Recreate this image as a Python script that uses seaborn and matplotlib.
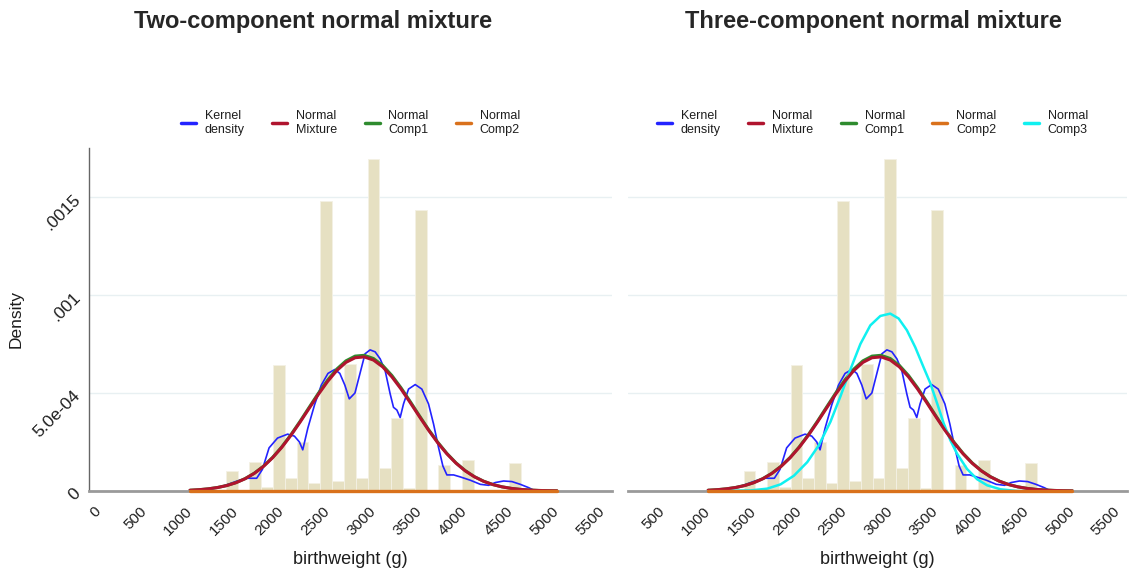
#birthweight: normal mixture fits vs histogram and kernel density
import numpy as np
import pandas as pd
import matplotlib
matplotlib.use("Agg")
import matplotlib.pyplot as plt
from matplotlib.lines import Line2D
import seaborn as sns

#histogram bars (density per bin)
bin_start = 1003
bin_width = 128.8
bar_heights = [1.2e-5, 0, 0, 1.0e-4, 0, 1.5e-4, 2.0e-5, 6.43e-4, 6.5e-5, 2.5e-4,
               4.3e-5, 1.48e-3, 5.1e-5, 6.5e-4, 6.8e-5, 1.695e-3, 1.15e-4, 3.7e-4,
               1.7e-5, 1.433e-3, 0, 1.33e-4, 0, 1.59e-4, 0, 0, 0, 1.42e-4]

#kernel density
kde_x = [1000, 1220, 1367, 1514, 1624, 1727, 1789, 1862, 1954, 2064, 2138, 2193, 2229,
         2284, 2358, 2431, 2504, 2578, 2633, 2688, 2736, 2798, 2853, 2908, 2963, 3018,
         3073, 3127, 3182, 3218, 3255, 3291, 3327, 3382, 3455, 3527, 3600, 3655, 3709,
         3756, 3800, 3873, 3945, 4055, 4164, 4255, 4327, 4418, 4509, 4600, 4691, 4764]
kde_y = [0, 8.5e-6, 2.6e-5, 5.1e-5, 6.5e-5, 6.5e-5, 1.1e-4, 2.2e-4, 2.7e-4, 2.9e-4,
         2.8e-4, 2.5e-4, 2.1e-4, 3.2e-4, 4.4e-4, 5.4e-4, 6.0e-4, 6.2e-4, 6.0e-4, 5.4e-4,
         4.7e-4, 5.0e-4, 6.0e-4, 7.0e-4, 7.2e-4, 7.1e-4, 6.74e-4, 6.14e-4, 4.95e-4,
         4.27e-4, 4.13e-4, 3.75e-4, 4.44e-4, 5.2e-4, 5.43e-4, 5.2e-4, 4.44e-4, 3.41e-4,
         2.22e-4, 1.28e-4, 8.2e-5, 8.2e-5, 7.2e-5, 5.5e-5, 3.4e-5, 2.9e-5, 4.3e-5,
         5.1e-5, 4.8e-5, 3.4e-5, 1.7e-5, 0]

#fitted mixture and components
curve_x = list(range(1000, 5001, 100))
mix_y = [3.8e-6, 6.5e-6, 1.09e-5, 1.76e-5, 2.76e-5, 4.21e-5, 6.23e-5, 8.95e-5, 1.249e-4,
         1.693e-4, 2.224e-4, 2.838e-4, 3.515e-4, 4.226e-4, 4.933e-4, 5.589e-4, 6.147e-4,
         6.562e-4, 6.800e-4, 6.841e-4, 6.680e-4, 6.332e-4, 5.826e-4, 5.204e-4, 4.512e-4,
         3.798e-4, 3.102e-4, 2.461e-4, 1.895e-4, 1.415e-4, 1.027e-4, 7.23e-5, 4.94e-5,
         3.27e-5, 2.11e-5, 1.32e-5, 8.0e-6, 4.7e-6, 2.7e-6, 1.5e-6, 8e-7]
comp1_y = [3.8e-6, 6.6e-6, 1.10e-5, 1.78e-5, 2.79e-5, 4.26e-5, 6.30e-5, 9.06e-5, 1.264e-4,
           1.713e-4, 2.251e-4, 2.872e-4, 3.557e-4, 4.277e-4, 4.992e-4, 5.656e-4, 6.221e-4,
           6.641e-4, 6.882e-4, 6.923e-4, 6.760e-4, 6.408e-4, 5.896e-4, 5.266e-4, 4.566e-4,
           3.844e-4, 3.139e-4, 2.491e-4, 1.918e-4, 1.432e-4, 1.039e-4, 7.32e-5, 5.0e-5,
           3.31e-5, 2.14e-5, 1.34e-5, 8.1e-6, 4.8e-6, 2.7e-6, 1.5e-6, 8e-7]
comp2_x = [1000, 5000]
comp2_y = [0, 0]
comp3_x = [1000, 1467, 1650, 1796, 1942, 2088, 2215, 2343, 2453, 2562, 2672, 2781, 2891,
           3000, 3092, 3183, 3275, 3367, 3440, 3514, 3587, 3660, 3734, 3844, 3954, 4064,
           4211, 4394, 5000]
comp3_y = [0, 3e-6, 1.2e-5, 3.4e-5, 7.8e-5, 1.47e-4, 2.33e-4, 3.53e-4, 4.83e-4, 6.2e-4,
           7.5e-4, 8.45e-4, 8.93e-4, 9.05e-4, 8.8e-4, 8.2e-4, 7.33e-4, 6.3e-4, 5.5e-4,
           4.48e-4, 3.45e-4, 2.59e-4, 1.9e-4, 1.12e-4, 6.0e-5, 2.9e-5, 8.6e-6, 0, 0]

x_ticks = [0, 500, 1000, 1500, 2000, 2500, 3000, 3500, 4000, 4500, 5000, 5500]
y_ticks = [0, 0.0005, 0.001, 0.0015]
y_ticklabels = ["0", "5.0e-04", ".001", ".0015"]

#colors
c_hist = "#e6e0c2"
c_kde = "#2323ff"
c_mix = "#b0142e"
c_comp1 = "#2e8b2e"
c_comp2 = "#d9711c"
c_comp3 = "#10f0f0"
c_text = "#1e1e1e"

sns.set_style("white")
plt.rcParams["font.family"] = ["Liberation Sans", "DejaVu Sans"]

fig = plt.figure(figsize=(11.33, 5.75), dpi=100)
ax1 = fig.add_axes([0.0786, 0.1461, 0.4616, 0.5965])
ax2 = fig.add_axes([0.5543, 0.1461, 0.4404, 0.5965])

edges = bin_start + bin_width * np.arange(len(bar_heights) + 1)
bars = pd.DataFrame({"mid": (edges[:-1] + edges[1:]) / 2, "h": bar_heights})


def draw_panel(ax, three):
    ax.yaxis.grid(True, color="#e8f0f2", linewidth=1)
    ax.set_axisbelow(True)
    sns.histplot(data=bars, x="mid", weights="h", bins=list(edges), stat="count",
                 color=c_hist, edgecolor="#f4f1e4", linewidth=0.6, alpha=1, ax=ax)
    sns.lineplot(x=kde_x, y=kde_y, color=c_kde, linewidth=1.2, estimator=None, ax=ax)
    sns.lineplot(x=curve_x, y=comp1_y, color=c_comp1, linewidth=2.2, estimator=None, ax=ax)
    if three:
        sns.lineplot(x=comp3_x, y=comp3_y, color=c_comp3, linewidth=1.8, estimator=None, ax=ax)
    sns.lineplot(x=curve_x, y=mix_y, color=c_mix, linewidth=2.2, estimator=None, ax=ax)
    # comp2 sits on the baseline, drawn over the axis line
    sns.lineplot(x=comp2_x, y=comp2_y, color=c_comp2, linewidth=2.4, estimator=None,
                 ax=ax, zorder=3, clip_on=False)

    ax.set_ylim(0, 0.00175)
    ax.set_yticks(y_ticks)
    ax.set_xticks(x_ticks)
    ax.set_xticklabels([str(t) for t in x_ticks], rotation=45, ha="right", va="center",
                       rotation_mode="anchor", fontsize=11, color=c_text)
    ax.set_xlabel("birthweight (g)", fontsize=13, color=c_text, labelpad=9)
    ax.set_ylabel("")
    for s in ["top", "right"]:
        ax.spines[s].set_visible(False)
    ax.spines["bottom"].set_color("#9a9a9a")
    ax.spines["bottom"].set_linewidth(2)
    ax.tick_params(axis="x", length=6, width=1, color="#777777", pad=7)

    labels = ["Kernel\ndensity", "Normal\nMixture", "Normal\nComp1", "Normal\nComp2"]
    colors = [c_kde, c_mix, c_comp1, c_comp2]
    if three:
        labels.append("Normal\nComp3")
        colors.append(c_comp3)
    handles = [Line2D([], [], color=c, linewidth=2.5) for c in colors]
    ax.legend(handles, labels, loc="center", bbox_to_anchor=(0.5 if not three else 0.49, 1.073),
              ncol=len(labels), frameon=False, fontsize=9, handlelength=1.2,
              handletextpad=0.7, columnspacing=2.2, labelcolor=c_text)


draw_panel(ax1, False)
ax1.set_xlim(-100, 5600)
ax1.set_yticklabels(y_ticklabels, rotation=45, ha="right", va="center",
                    rotation_mode="anchor", fontsize=12.5, color=c_text)
ax1.spines["left"].set_color("#666666")
ax1.spines["left"].set_linewidth(1)
ax1.tick_params(axis="y", length=5, width=1, color="#666666", pad=3)
ax1.set_ylabel("Density", fontsize=12.5, color=c_text)
ax1.yaxis.set_label_coords(-0.125, 0.5)

draw_panel(ax2, True)
ax2.set_xlim(120, 5600)
ax2.spines["left"].set_visible(False)
ax2.tick_params(axis="y", length=0, labelleft=False)

fig.text(0.276, 0.963, "Two-component normal mixture", ha="center", va="center",
         fontsize=17, fontweight="bold")
fig.text(0.771, 0.963, "Three-component normal mixture", ha="center", va="center",
         fontsize=17, fontweight="bold")

fig.savefig("out.png", dpi=100)
